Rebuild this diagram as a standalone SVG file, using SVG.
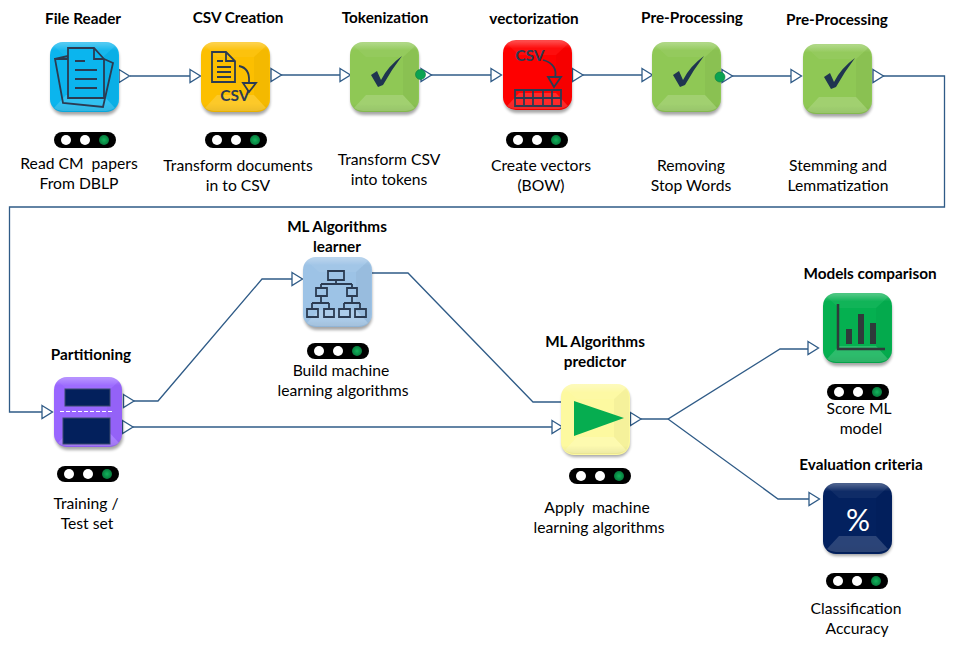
<svg xmlns="http://www.w3.org/2000/svg" width="955" height="648" viewBox="0 0 955 648">
<style>
text{font-family:"Lato","Open Sans","Liberation Sans",sans-serif;fill:#000;text-anchor:middle;white-space:pre}
.t{font-size:15.3px;font-weight:700}
.l{font-size:15.7px}
.c{fill:none;stroke:#2f5b87;stroke-width:1.3}
.p{fill:#fff;stroke:#2f5b87;stroke-width:1.3}
.ic{fill:none;stroke:#2b3b52;stroke-width:1.8}
.icf{fill:#1f3550}
</style>
<defs>
<filter id="sh" x="-20%" y="-20%" width="140%" height="140%"><feGaussianBlur stdDeviation="1.6"/></filter>
<linearGradient id="top" x1="0" y1="0" x2="0" y2="1"><stop offset="0" stop-color="#fff" stop-opacity=".3"/><stop offset=".12" stop-color="#fff" stop-opacity="0"/><stop offset=".88" stop-color="#000" stop-opacity="0"/><stop offset="1" stop-color="#000" stop-opacity=".08"/></linearGradient>
<radialGradient id="led"><stop offset="0" stop-color="#12b45c"/><stop offset="1" stop-color="#067a3c"/></radialGradient>
<g id="shadow"><rect x="1" y="3" width="68" height="70" rx="13" fill="#000" opacity=".35" filter="url(#sh)"/></g>
<g id="bevel">
<rect width="69" height="70" rx="13" fill="url(#top)"/>
<path d="M4 4L16 15H53L65 4Q60 1 56 1H13Q8 1 4 4Z" fill="#fff" opacity=".05"/>
<path d="M4 66L16 53H53L65 66Q60 69 56 69H13Q8 69 4 66Z" fill="#fff" opacity=".16"/>
<path d="M65 4L53 15V53L65 66Q68 62 68 57V13Q68 8 65 4Z" fill="#000" opacity=".03"/>
</g>
<g id="check"><path d="M21 33L27 29L31 38Q38 24 52 14Q42 27 33 43L28 45Z" class="icf"/></g>
<g id="lights"><rect width="62" height="16" rx="8" fill="#000"/><circle cx="12" cy="8" r="5" fill="#fff"/><circle cx="31" cy="8" r="5" fill="#fff"/><circle cx="50" cy="8" r="5" fill="url(#led)"/></g>
<path id="port" d="M0 -6.500L10.500 0L0 6.500Z" class="p"/>
</defs>
<g id="connectors">
<path class="c" d="M130 76H190"/>
<path class="c" d="M281 75H340"/>
<path class="c" d="M431 75H491"/>
<path class="c" d="M583 75H642"/>
<path class="c" d="M732 76H791"/>
<path class="c" d="M883 76H944.500V207H9.500V412H42"/>
<path class="c" d="M134 401H158L262 279H292"/>
<path class="c" d="M133 427H552"/>
<path class="c" d="M372 273H408L533 402H561"/>
<path class="c" d="M641 419H668L780 349H808"/>
<path class="c" d="M668 419L778 499H809"/>
<use href="#port" x="119" y="76"/><use href="#port" x="190" y="76"/>
<use href="#port" x="271" y="75"/><use href="#port" x="340" y="75"/>
<use href="#port" x="421" y="75"/><use href="#port" x="491" y="75"/>
<use href="#port" x="572.500" y="75"/><use href="#port" x="642" y="75"/>
<use href="#port" x="722" y="76"/><use href="#port" x="791" y="76"/>
<use href="#port" x="873" y="76"/><use href="#port" x="42" y="412"/>
<use href="#port" x="123.500" y="401"/><use href="#port" x="122.500" y="427"/>
<use href="#port" x="292" y="279"/><use href="#port" x="552" y="427"/>
<use href="#port" x="630.500" y="419"/><use href="#port" x="808" y="348"/><use href="#port" x="809" y="499"/>
</g>
<g id="file-reader">
<text class="t" x="83" y="24">File Reader</text>
<g transform="translate(50,42)"><use href="#shadow"/><rect width="69" height="70" rx="13" fill="#0bb5ee"/><use href="#bevel"/>
<path class="ic" d="M5 17L18 14V17H5L13 61L53 65L63 21L54 17"/><path d="M18 6H44L54 17V56H18Z" fill="#0bb5ee" stroke="#2b3b52" stroke-width="1.800"/><path class="ic" d="M44 6V17H54M25 19H35M25 28H47M25 37H47M25 46H47"/></g>
<use href="#lights" x="54" y="132"/>
<text class="l" x="79" y="169">Read CM  papers</text><text class="l" x="79" y="189">From DBLP</text>
</g>
<g id="csv-creation">
<text class="t" x="238" y="23">CSV Creation</text>
<g transform="translate(201,42)"><use href="#shadow"/><rect width="69" height="70" rx="13" fill="#fcbf00"/><use href="#bevel"/>
<path class="ic" d="M11 10H25L34 19V40H11ZM25 10V19H34M16 19H22M16 25H30M16 30H30M16 35H30M38 24Q49 26 48 40"/><path class="ic" d="M42 41H55L48 50Z"/>
<text x="34" y="59" style="font-size:15.5px;font-weight:700;fill:#2b3b52">CSV</text></g>
<use href="#lights" x="205" y="132"/>
<text class="l" x="238" y="171">Transform documents</text><text class="l" x="238" y="191">in to CSV</text>
</g>
<g id="tokenization">
<text class="t" x="385" y="23">Tokenization</text>
<g transform="translate(350,42)"><use href="#shadow"/><rect width="69" height="70" rx="13" fill="#8fc855"/><use href="#bevel"/><use href="#check"/></g>
<circle cx="420.500" cy="74.500" r="5" fill="#0aa351" stroke="#0a7a3e" stroke-width=".6"/>
<text class="l" x="389" y="165">Transform CSV</text><text class="l" x="389" y="185">into tokens</text>
</g>
<g id="vectorization">
<text class="t" x="534" y="24">vectorization</text>
<g transform="translate(503,40)"><use href="#shadow"/><rect width="69" height="70" rx="13" fill="#fe0000"/><use href="#bevel"/>
<text x="27" y="21" style="font-size:15.5px;font-weight:700;fill:#2b3b52">CSV</text>
<path class="ic" d="M40 20Q55 24 52 38"/><path class="ic" d="M45 37H58L51 47Z"/>
<path class="ic" d="M12 50H58V66H12ZM12 58H58M21 50V66M30 50V66M40 50V66M49 50V66" stroke-width="1.400"/></g>
<use href="#lights" x="506" y="132"/>
<text class="l" x="541" y="171">Create vectors</text><text class="l" x="541" y="191">(BOW)</text>
</g>
<g id="pre-processing-1">
<text class="t" x="692" y="23">Pre-Processing</text>
<g transform="translate(652,42)"><use href="#shadow"/><rect width="69" height="70" rx="13" fill="#8fc855"/><use href="#bevel"/><use href="#check"/></g>
<circle cx="720" cy="77" r="5" fill="#0aa351" stroke="#0a7a3e" stroke-width=".6"/>
<text class="l" x="691" y="171">Removing</text><text class="l" x="691" y="191">Stop Words</text>
</g>
<g id="pre-processing-2">
<text class="t" x="837" y="25">Pre-Processing</text>
<g transform="translate(803,44)"><use href="#shadow"/><rect width="69" height="70" rx="13" fill="#8fc855"/><use href="#bevel"/><use href="#check"/></g>
<text class="l" x="838" y="171">Stemming and</text><text class="l" x="838" y="191">Lemmatization</text>
</g>
<g id="partitioning">
<text class="t" x="91" y="360">Partitioning</text>
<g transform="translate(54,377)"><use href="#shadow"/><rect width="68" height="70" rx="13" fill="#9966ff"/><use href="#bevel"/>
<rect x="11" y="12" width="45" height="17" fill="#03205c" stroke="#3a4a6a"/><rect x="9" y="41" width="47" height="26" fill="#03205c" stroke="#3a4a6a"/><path d="M6 34.500H60" stroke="#fff" stroke-dasharray="4 2" fill="none"/></g>
<use href="#lights" x="57" y="466"/>
<text class="l" x="86" y="509">Training /</text><text class="l" x="87" y="529">Test set</text>
</g>
<g id="ml-learner">
<text class="t" x="337" y="232">ML Algorithms</text><text class="t" x="337" y="252">learner</text>
<g transform="translate(303,257)"><use href="#shadow"/><rect width="69" height="70" rx="13" fill="#9dc3e6"/><use href="#bevel"/>
<path class="ic" stroke-width="2" d="M25 14H41V23H25ZM33 23V27M18 27H49M18 27V31M49 27V31M13 31H24V39H13ZM44 31H54V39H44ZM18 39V46M9 46H26M49 39V46M41 46H57M9 46V52M26 46V52M41 46V52M57 46V52M4 52H15V60H4ZM21 52H31V60H21ZM36 52H47V60H36ZM52 52H63V60H52Z"/></g>
<use href="#lights" x="307" y="343"/>
<text class="l" x="341" y="376">Build machine</text><text class="l" x="343" y="396">learning algorithms</text>
</g>
<g id="ml-predictor">
<text class="t" x="595" y="347">ML Algorithms</text><text class="t" x="595" y="367">predictor</text>
<g transform="translate(561,384)"><use href="#shadow"/><rect width="69" height="71" rx="13" fill="#fdf9a0"/><use href="#bevel"/><path d="M13 17L63 34L13 52Z" fill="#06ad50"/></g>
<use href="#lights" x="569" y="468"/>
<text class="l" x="597" y="513">Apply  machine</text><text class="l" x="599" y="533">learning algorithms</text>
</g>
<g id="models-comparison">
<text class="t" x="870" y="279">Models comparison</text>
<g transform="translate(823,293)"><use href="#shadow"/><rect width="69" height="70" rx="13" fill="#05b050"/><use href="#bevel"/>
<path d="M15 11V56H62" fill="none" stroke="#2f3a3a" stroke-width="2.500"/><path d="M23 36H29V51H23ZM35 21H41V51H35ZM47 30H53V51H47Z" fill="#2f3a3a"/></g>
<use href="#lights" x="827" y="384"/>
<text class="l" x="859" y="414">Score ML</text><text class="l" x="861" y="434">model</text>
</g>
<g id="evaluation-criteria">
<text class="t" x="861" y="470">Evaluation criteria</text>
<g transform="translate(823,483)"><use href="#shadow"/><rect width="69" height="71" rx="13" fill="#03215f"/><use href="#bevel"/>
<text x="35" y="48" style="font-size:30px;fill:#fff">%</text></g>
<use href="#lights" x="826" y="573"/>
<text class="l" x="856" y="614">Classification</text><text class="l" x="857" y="634">Accuracy</text>
</g>
</svg>
